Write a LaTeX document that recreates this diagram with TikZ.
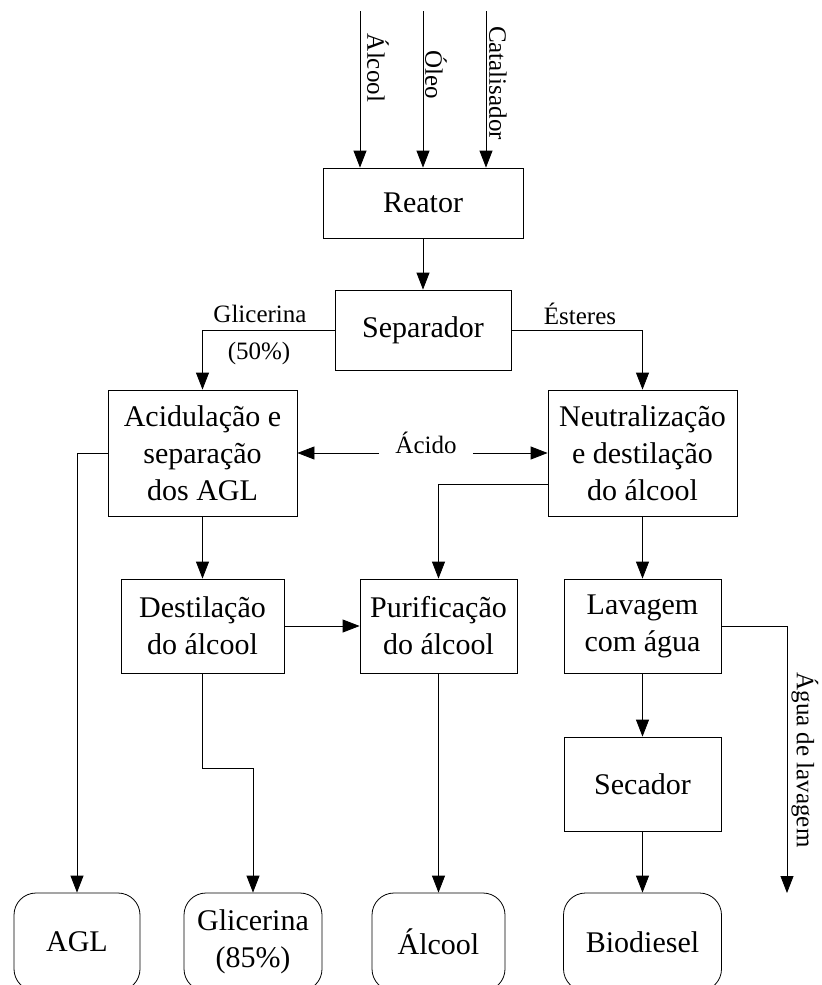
\documentclass[tikz,border=0pt]{standalone}
\usepackage{fontspec}
\setmainfont{Liberation Serif}
\usepackage{tikz}
\usetikzlibrary{arrows.meta}
\usetikzlibrary{positioning}

\newcommand{\procfont}{\fontsize{15}{18.5}\selectfont}
\newcommand{\lblfont}{\fontsize{12.5}{15}\selectfont}

\tikzset{
	proc/.style={draw, align=center, inner sep=0pt, font=\procfont},
	term/.style={draw, align=center, inner sep=0pt, rounded corners=11pt, font=\procfont},
	lbl/.style={inner sep=0pt, font=\lblfont},
	arr/.style={-{Triangle[length=8.5pt,width=6.5pt]}}
}

\begin{document}
\begin{tikzpicture}[x=0.5pt,y=-0.5pt]
			\useasboundingbox (0,0) rectangle (822,985);

			% blocos do processo
			\node[proc, minimum width=100pt, minimum height=35pt] (reator) at (423,203) {Reator};
			\node[proc, minimum width=88pt, minimum height=40pt] (sep) at (423,330) {Separador};
			\node[proc, minimum width=94.5pt, minimum height=63pt] (acid) at (202.5,453) {Acidulação e\\separação\\dos AGL};
			\node[proc, minimum width=94.5pt, minimum height=63pt] (neut) at (642.5,453) {Neutralização\\e destilação\\do álcool};
			\node[proc, minimum width=81.5pt, minimum height=47pt] (dest) at (202.5,626) {Destilação\\do álcool};
			\node[proc, minimum width=78.5pt, minimum height=47pt] (purif) at (438.5,626) {Purificação\\do álcool};
			\node[proc, minimum width=78.5pt, minimum height=47pt] (lav) at (642.5,626) {Lavagem\\com água};
			\node[proc, minimum width=78.5pt, minimum height=47pt] (sec) at (642.5,784) {Secador};

			\node[term, minimum width=63pt, minimum height=49pt] (agl) at (77,942) {AGL};
			\node[term, minimum width=69pt, minimum height=49pt] (glic) at (253,942) {Glicerina\\(85\%)};
			\node[term, minimum width=66.5pt, minimum height=49pt] (alc) at (438.5,942) {Álcool};
			\node[term, minimum width=79pt, minimum height=49pt] (bio) at (642.5,942) {Biodiesel};

			\coordinate (inA) at (360,11);
			\coordinate (inO) at (423,11);
			\coordinate (inC) at (486,11);
			\coordinate (agua) at (787,893);

			\node[lbl, rotate=-90] (lalc) at (378,68) {Álcool};
			\node[lbl, rotate=-90] (loleo) at (436,75) {Óleo};
			\node[lbl, rotate=-90] (lcat) at (498,83) {Catalisador};
			\node[lbl] (lglic) at (260,314) {Glicerina};
			\node[lbl] (l50) at (259,353) {(50\%)};
			\node[lbl] (lest) at (580,314) {Ésteres};
			\node[lbl, anchor=base, inner xsep=8pt] (acido) at (426,453) {Ácido};
			\node[lbl, rotate=-90] (lagua) at (805,760) {Água de lavagem};

			\draw[arr] (inA) -- (inA |- reator.north);
			\draw[arr] (inO) -- (reator.north);
			\draw[arr] (inC) -- (inC |- reator.north);
			\draw[arr] (reator) -- (sep);
			\draw[arr] (sep.west) -| (acid.north);
			\draw[arr] (sep.east) -| (neut.north);
			\draw[arr] (acido.base west) -- (acid.east);
			\draw[arr] (acido.base east) -- (neut.west);
			\draw[arr] (acid.west) -| (agl.north);
			\draw[arr] (acid) -- (dest);
			\draw[arr] (dest) -- (purif);
			\draw[arr] (dest.south) -- ++(0,95) -| (glic.north);
			\draw[arr] ([yshift=-15.5pt]neut.west) -| (purif.north);
			\draw[arr] (purif) -- (alc);
			\draw[arr] (neut) -- (lav);
			\draw[arr] (lav) -- (sec);
			\draw[arr] (sec) -- (bio);
			\draw[arr] (lav.east) -| (agua);
		\end{tikzpicture}
\end{document}
